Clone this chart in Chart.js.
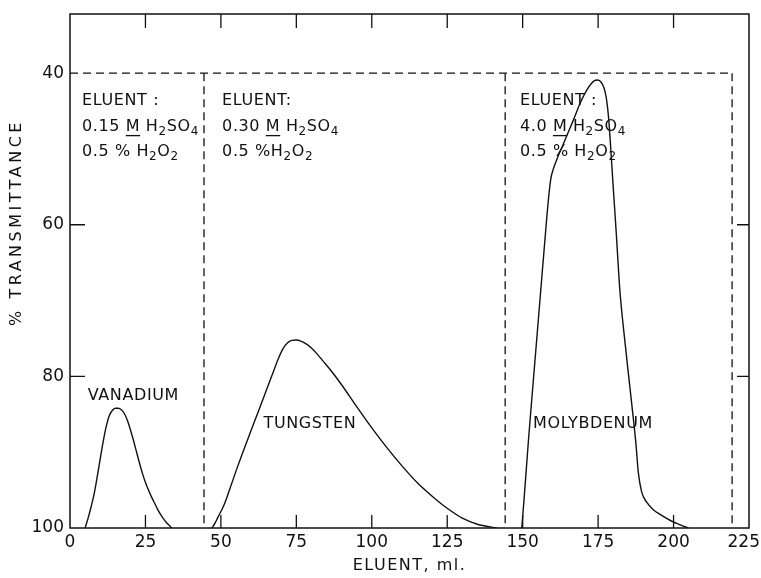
<!DOCTYPE html>
<html>
<head>
<meta charset="utf-8">
<script src="https://cdn.jsdelivr.net/npm/chart.js@4/dist/chart.umd.min.js"></script>
<style>
  html, body { margin: 0; padding: 0; background: #fff; }
  #wrap { width: 761px; height: 578px; }
</style>
</head>
<body>
<div id="wrap"><canvas id="chart" width="761" height="578"></canvas></div>
<script>
// eluent volume (ml) / % transmittance
var vanadiumMl = [5, 6, 7, 8, 9, 10, 11, 12, 13, 14, 15, 16, 17, 18, 19, 20, 21, 22, 23, 24, 25, 26, 27, 28, 29, 30, 31, 32, 33, 33.7];
var vanadiumT  = [100, 98.7, 97.2, 95.5, 93.3, 90.9, 88.6, 86.6, 85.2, 84.5, 84.2, 84.2, 84.4, 84.9, 85.8, 87.0, 88.4, 89.9, 91.4, 92.8, 94.0, 95.0, 95.9, 96.7, 97.5, 98.2, 98.8, 99.3, 99.7, 100];

var tungstenMl = [47, 48, 49, 51, 53, 55, 57, 59, 61, 63, 65, 67, 69, 70.5, 72, 73.5, 75, 76.5, 78, 80, 82, 84, 86, 90, 95, 100, 105, 110, 115, 120, 125, 130, 135, 141.4];
var tungstenT  = [100, 99.4, 98.6, 97.0, 94.8, 92.5, 90.3, 88.2, 86.1, 84.0, 81.9, 79.8, 77.7, 76.4, 75.6, 75.25, 75.2, 75.35, 75.65, 76.25, 77.1, 78.05, 79.0, 81.1, 84.0, 86.8, 89.4, 91.8, 94.0, 95.8, 97.4, 98.7, 99.5, 100];

var molybdenumMl = [149.7, 150.5, 152, 154, 156, 157.5, 158.5, 159.3, 160.2, 161.5, 163, 165, 167, 169, 171, 172.5, 173.8, 174.7, 175.8, 177.0, 177.8, 178.5, 179.2, 180.0, 181.0, 182.2, 183.5, 185.0, 186.6, 187.6, 188.3, 189.4, 191.1, 193.3, 195.5, 199.9, 204.9];
var molybdenumT  = [100, 96.0, 88.0, 78.3, 68.6, 61.4, 56.8, 54.0, 52.6, 51.2, 49.8, 47.9, 46.0, 44.0, 42.4, 41.5, 41.0, 40.9, 41.1, 42.0, 43.5, 46.0, 50.0, 55.0, 61.0, 68.6, 74.0, 79.5, 85.3, 89.2, 92.6, 95.2, 96.6, 97.6, 98.2, 99.2, 100];

// dashed boxes marking the eluent changes
var eluentChangeMl = [44.4, 144.2, 219.4];
var boxTopT = 40;
var baseT = 100;

var xTicks = [0, 25, 50, 75, 100, 125, 150, 175, 200, 225];
var yTicks = [40, 60, 80, 100];

var eluentNotes = [
    { ml: 4.0,   head: 'ELUENT :', acid: '0.15 ', perox: '0.5 % H' },
    { ml: 50.4,  head: 'ELUENT:',  acid: '0.30 ', perox: '0.5 %H' },
    { ml: 149.1, head: 'ELUENT :', acid: '4.0 ',  perox: '0.5 % H' }
];
var peakNames = [
    { text: 'VANADIUM',   ml: 21.0,  t: 82.6 },
    { text: 'TUNGSTEN',   ml: 79.5,  t: 86.3 },
    { text: 'MOLYBDENUM', ml: 173.3, t: 86.2 }
];

var INK = '#111';
var FONT = '"DejaVu Sans", sans-serif';

function pts(xs, ys) {
    return xs.map(function (x, i) { return { x: x, y: ys[i] }; });
}

var curve = {
    borderColor: INK,
    borderWidth: 1.4,
    pointRadius: 0,
    fill: false,
    cubicInterpolationMode: 'monotone'
};
var dash = {
    borderColor: INK,
    borderWidth: 1.3,
    borderDash: [8, 5],
    pointRadius: 0,
    fill: false,
    tension: 0
};

var datasets = [];
// top edge of the dashed box
datasets.push(Object.assign({ data: pts([0, eluentChangeMl[2]], [boxTopT, boxTopT]) }, dash));
eluentChangeMl.forEach(function (ml) {
    datasets.push(Object.assign({ data: pts([ml, ml], [boxTopT, baseT]) }, dash));
});
datasets.push(Object.assign({ data: pts(vanadiumMl, vanadiumT) }, curve));
datasets.push(Object.assign({ data: pts(tungstenMl, tungstenT) }, curve));
datasets.push(Object.assign({ data: pts(molybdenumMl, molybdenumT) }, curve));

// text with subscripts / underline
function drawRich(ctx, x, y, parts, size) {
    parts.forEach(function (p) {
        var s = p.sub ? Math.round(size * 0.75) : size;
        ctx.font = s + 'px ' + FONT;
        var dy = p.sub ? size * 0.32 : 0;
        ctx.fillText(p.t, x, y + dy);
        var w = ctx.measureText(p.t).width;
        if (p.u) ctx.fillRect(x, y + size * 0.5, w, 1.3);
        x += w;
    });
}

var frame = {
    id: 'frame',
    afterDraw: function (chart) {
        var ctx = chart.ctx, a = chart.chartArea;
        var xs = chart.scales.x, ys = chart.scales.y;
        ctx.save();
        ctx.strokeStyle = INK;
        ctx.fillStyle = INK;
        ctx.lineWidth = 1.5;
        ctx.setLineDash([]);
        ctx.strokeRect(a.left, a.top, a.right - a.left, a.bottom - a.top);

        // inward ticks
        ctx.lineWidth = 1.3;
        ctx.beginPath();
        xTicks.forEach(function (v) {
            if (v <= xTicks[0] || v >= xTicks[xTicks.length - 1]) return;
            var px = xs.getPixelForValue(v);
            ctx.moveTo(px, a.bottom); ctx.lineTo(px, a.bottom - 13);
            ctx.moveTo(px, a.top); ctx.lineTo(px, a.top + 14);
        });
        yTicks.forEach(function (v) {
            if (v === boxTopT || v === baseT) return;
            var py = ys.getPixelForValue(v);
            ctx.moveTo(a.left, py); ctx.lineTo(a.left + 15, py);
            ctx.moveTo(a.right, py); ctx.lineTo(a.right - 12, py);
        });
        ctx.stroke();

        // x tick labels (last one kept inside the page like the original)
        ctx.textBaseline = 'middle';
        ctx.textAlign = 'center';
        ctx.font = '17px ' + FONT;
        xTicks.forEach(function (v) {
            var label = String(v);
            var w = ctx.measureText(label).width;
            var px = Math.min(xs.getPixelForValue(v), chart.width - w / 2 - 1);
            ctx.fillText(label, px, a.bottom + 15);
        });

        ctx.textAlign = 'left';
        ctx.letterSpacing = '0.6px';
        // eluent notes
        eluentNotes.forEach(function (n) {
            var x = xs.getPixelForValue(n.ml);
            drawRich(ctx, x, ys.getPixelForValue(43.6), [{ t: n.head }], 16);
            drawRich(ctx, x, ys.getPixelForValue(47.1), [
                { t: n.acid }, { t: 'M', u: true }, { t: ' H' }, { t: '2', sub: true },
                { t: 'SO' }, { t: '4', sub: true }
            ], 16);
            drawRich(ctx, x, ys.getPixelForValue(50.4), [
                { t: n.perox }, { t: '2', sub: true }, { t: 'O' }, { t: '2', sub: true }
            ], 16);
        });

        // peak names
        ctx.textAlign = 'center';
        ctx.font = '16px ' + FONT;
        peakNames.forEach(function (p) {
            ctx.fillText(p.text, xs.getPixelForValue(p.ml), ys.getPixelForValue(p.t));
        });

        // axis titles
        ctx.letterSpacing = '1.5px';
        ctx.fillText('ELUENT, ml.', (a.left + a.right) / 2, 566);
        ctx.translate(17, ys.getPixelForValue(59.7));
        ctx.rotate(-Math.PI / 2);
        ctx.letterSpacing = '3.5px';
        ctx.fillText('% TRANSMITTANCE', 0, 0);
        ctx.restore();
    }
};

new Chart(document.getElementById('chart'), {
    type: 'line',
    data: { datasets: datasets },
    options: {
        responsive: false,
        animation: false,
        layout: { padding: { top: 14, right: 12, left: 0, bottom: 0 } },
        plugins: { legend: { display: false }, tooltip: { enabled: false } },
        scales: {
            x: {
                type: 'linear',
                min: 0,
                max: 225,
                afterBuildTicks: function (s) { s.ticks = xTicks.map(function (v) { return { value: v }; }); },
                afterFit: function (s) { s.height = 50; s.paddingLeft = 0; s.paddingRight = 0; },
                grid: { display: false, drawTicks: false },
                border: { display: false },
                ticks: { display: false }
            },
            y: {
                type: 'linear',
                reverse: true,
                min: 32.2,
                max: 100,
                afterBuildTicks: function (s) { s.ticks = yTicks.map(function (v) { return { value: v }; }); },
                afterFit: function (s) { s.width = 70; s.paddingTop = 0; s.paddingBottom = 0; },
                grid: { display: false, drawTicks: false },
                border: { display: false },
                ticks: { color: INK, padding: 6, font: { family: FONT, size: 17 }, autoSkip: false }
            }
        }
    },
    plugins: [frame]
});
</script>
</body>
</html>
